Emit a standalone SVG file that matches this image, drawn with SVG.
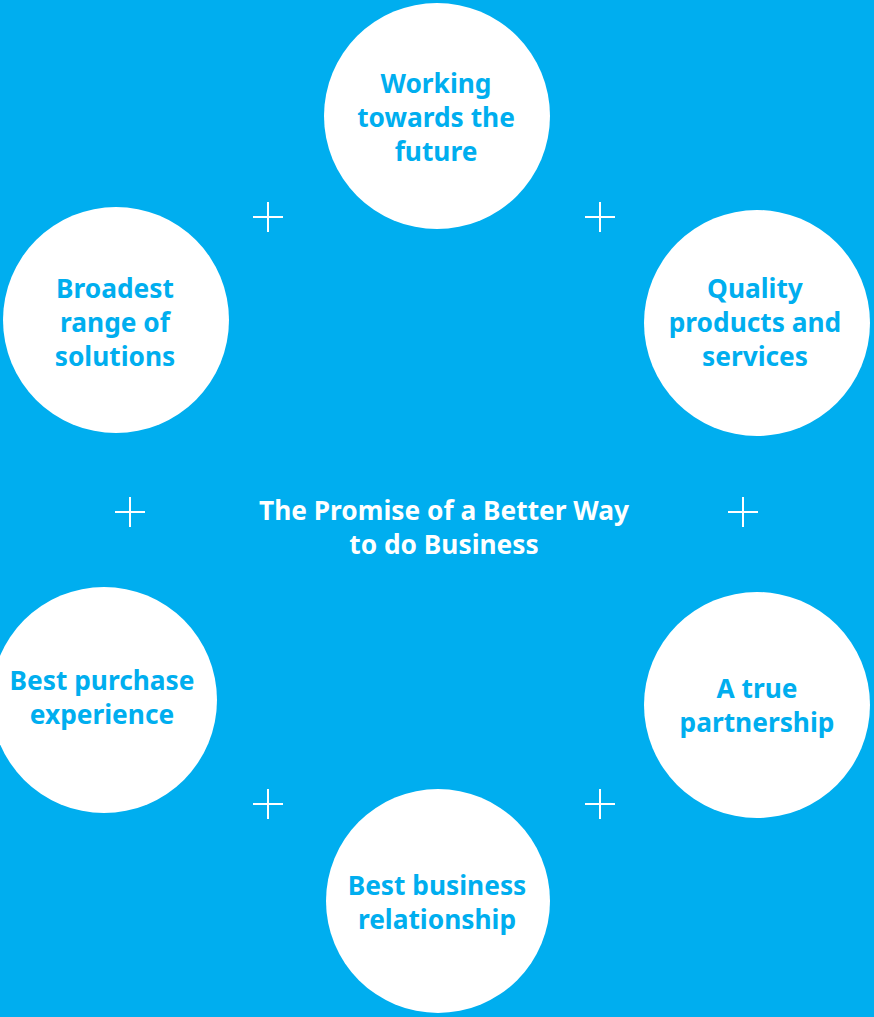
<svg xmlns="http://www.w3.org/2000/svg" width="874" height="1017" viewBox="0 0 874 1017">
<style>
.bg{fill:#00AEEF}
.c{fill:#FFFFFF}
.t{font-family:"Noto Sans","Open Sans",sans-serif;font-weight:bold;font-size:26.3px;fill:#00AEEF;text-anchor:middle}
.m{font-family:"Noto Sans","Open Sans",sans-serif;font-weight:bold;font-size:26.3px;fill:#FFFFFF;text-anchor:middle}
.p{stroke:#FFFFFF;stroke-width:2;fill:none}
</style>
<rect class="bg" x="0" y="0" width="874" height="1017"/>
<g id="connectors">
<path class="p" d="M253 217H283M268 202V232"/>
<path class="p" d="M585 217H615M600 202V232"/>
<path class="p" d="M115 512H145M130 497V527"/>
<path class="p" d="M728 512H758M743 497V527"/>
<path class="p" d="M253 804H283M268 789V819"/>
<path class="p" d="M585 804H615M600 789V819"/>
</g>
<g id="center">
<text class="m" x="444" y="520">The Promise of a Better Way</text>
<text class="m" x="444" y="554">to do Business</text>
</g>
<g id="future">
<circle class="c" cx="437" cy="116" r="113"/>
<text class="t" x="436" y="93">Working</text>
<text class="t" x="436" y="127">towards the</text>
<text class="t" x="436" y="161">future</text>
</g>
<g id="broadest">
<circle class="c" cx="116" cy="320" r="113"/>
<text class="t" x="115" y="298">Broadest</text>
<text class="t" x="115" y="332">range of</text>
<text class="t" x="115" y="366">solutions</text>
</g>
<g id="quality">
<circle class="c" cx="757" cy="323" r="113"/>
<text class="t" x="755" y="298">Quality</text>
<text class="t" x="755" y="332">products and</text>
<text class="t" x="755" y="366">services</text>
</g>
<g id="purchase">
<circle class="c" cx="104" cy="700" r="113"/>
<text class="t" x="102" y="690">Best purchase</text>
<text class="t" x="102" y="724">experience</text>
</g>
<g id="partnership">
<circle class="c" cx="757" cy="705" r="113"/>
<text class="t" x="757" y="698">A true</text>
<text class="t" x="757" y="732">partnership</text>
</g>
<g id="relationship">
<circle class="c" cx="438" cy="901" r="112"/>
<text class="t" x="437" y="895">Best business</text>
<text class="t" x="437" y="929">relationship</text>
</g>
</svg>
